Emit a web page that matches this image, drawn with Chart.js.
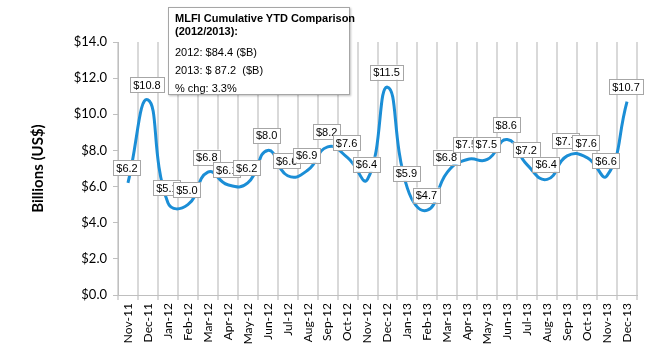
<!DOCTYPE html>
<html>
<head>
<meta charset="utf-8">
<script src="https://cdn.jsdelivr.net/npm/chart.js@4"></script>
<style>
  body { margin: 0; background: #fff; }
  #wrap { position: relative; width: 650px; height: 350px; }
  #note {
    position: absolute; left: 168px; top: 7px; width: 168px; height: 78px;
    padding: 4px 6px; border: 1px solid #a6a6a6; background: #fff;
    box-shadow: 1px 1px 2px rgba(0,0,0,0.25);
    font: 11px "Liberation Sans", Arial, sans-serif; color: #000; white-space: nowrap;
  }
  #note b { display: block; line-height: 13px; margin-bottom: 5px; }
  #note div { line-height: 18px; }
</style>
</head>
<body>
<div id="wrap">
  <canvas id="chart" width="650" height="350"></canvas>
  <div id="note">
    <b>MLFI Cumulative YTD Comparison<br>(2012/2013):</b>
    <div>2012: $84.4 ($B)</div>
    <div>2013: $ 87.2&nbsp; ($B)</div>
    <div>% chg: 3.3%</div>
  </div>
</div>
<script>
// Mois (axe X)
const months = ['Nov-11', 'Dec-11', 'Jan-12', 'Feb-12', 'Mar-12', 'Apr-12', 'May-12', 'Jun-12',
  'Jul-12', 'Aug-12', 'Sep-12', 'Oct-12', 'Nov-12', 'Dec-12', 'Jan-13', 'Feb-13', 'Mar-13',
  'Apr-13', 'May-13', 'Jun-13', 'Jul-13', 'Aug-13', 'Sep-13', 'Oct-13', 'Nov-13', 'Dec-13'];

// Volumes mensuels en milliards de dollars
const volumes = [6.2, 10.8, 5.1, 5.0, 6.8, 6.1, 6.2, 8.0, 6.6, 6.9, 8.2, 7.6, 6.4, 11.5,
  5.9, 4.7, 6.8, 7.5, 7.5, 8.6, 7.2, 6.4, 7.7, 7.6, 6.6, 10.7];

// Graduations de l'axe Y
const yTicks = [0, 2, 4, 6, 8, 10, 12, 14];

// Etiquettes encadrées au-dessus de chaque point
const boxLabels = {
  id: 'boxLabels',
  afterDatasetsDraw(chart) {
    const ctx = chart.ctx;
    const meta = chart.getDatasetMeta(0);
    ctx.save();
    ctx.font = '11px "Liberation Sans", Arial, sans-serif';
    ctx.textAlign = 'center';
    ctx.textBaseline = 'middle';
    meta.data.forEach((pt, i) => {
      const text = '$' + volumes[i].toFixed(1);
      const w = ctx.measureText(text).width + 6;
      const h = 15;
      const x = pt.x - 1;
      const y = pt.y - 15;
      ctx.fillStyle = '#fff';
      ctx.fillRect(x - w / 2, y - h / 2, w, h);
      ctx.strokeStyle = '#a6a6a6';
      ctx.lineWidth = 1;
      ctx.strokeRect(Math.round(x - w / 2) + 0.5, Math.round(y - h / 2) + 0.5, Math.round(w), h);
      ctx.fillStyle = '#000';
      ctx.fillText(text, x, y + 1);
    });
    ctx.restore();
  }
};

new Chart(document.getElementById('chart'), {
  type: 'line',
  data: {
    labels: months,
    datasets: [{
      data: volumes,
      borderColor: '#1b8ed6',
      borderWidth: 3,
      pointRadius: 0,
      fill: false,
      tension: 0.5
    }]
  },
  options: {
    responsive: false,
    animation: false,
    layout: { padding: { top: 42, right: 13, left: 0, bottom: 0 } },
    plugins: {
      legend: { display: false },
      tooltip: { enabled: false }
    },
    scales: {
      x: {
        offset: true,
        grid: { offset: true, color: '#d9d9d9', lineWidth: 2, tickLength: 5 },
        border: { color: '#bfbfbf', width: 1 },
        ticks: {
          minRotation: 90, maxRotation: 90, autoSkip: false, color: '#000',
          font: { family: 'Lato', size: 12 }
        },
        afterFit(scale) { scale.height = 55; }
      },
      y: {
        min: 0, max: 14,
        afterBuildTicks(scale) { scale.ticks = yTicks.map(v => ({ value: v })); },
        grid: { drawOnChartArea: false, color: '#bfbfbf', tickLength: 5 },
        border: { color: '#bfbfbf', width: 1 },
        ticks: {
          color: '#000', font: { family: 'Lato', size: 13 }, padding: 6,
          callback: v => '$' + Number(v).toFixed(1)
        },
        title: {
          display: true, text: 'Billions (US$)', color: '#000',
          font: { family: 'Lato', size: 15, weight: 'bold' }, padding: { top: 29, bottom: 4 }
        },
        afterFit(scale) { scale.width = 118; }
      }
    }
  },
  plugins: [boxLabels]
});
</script>
</body>
</html>
